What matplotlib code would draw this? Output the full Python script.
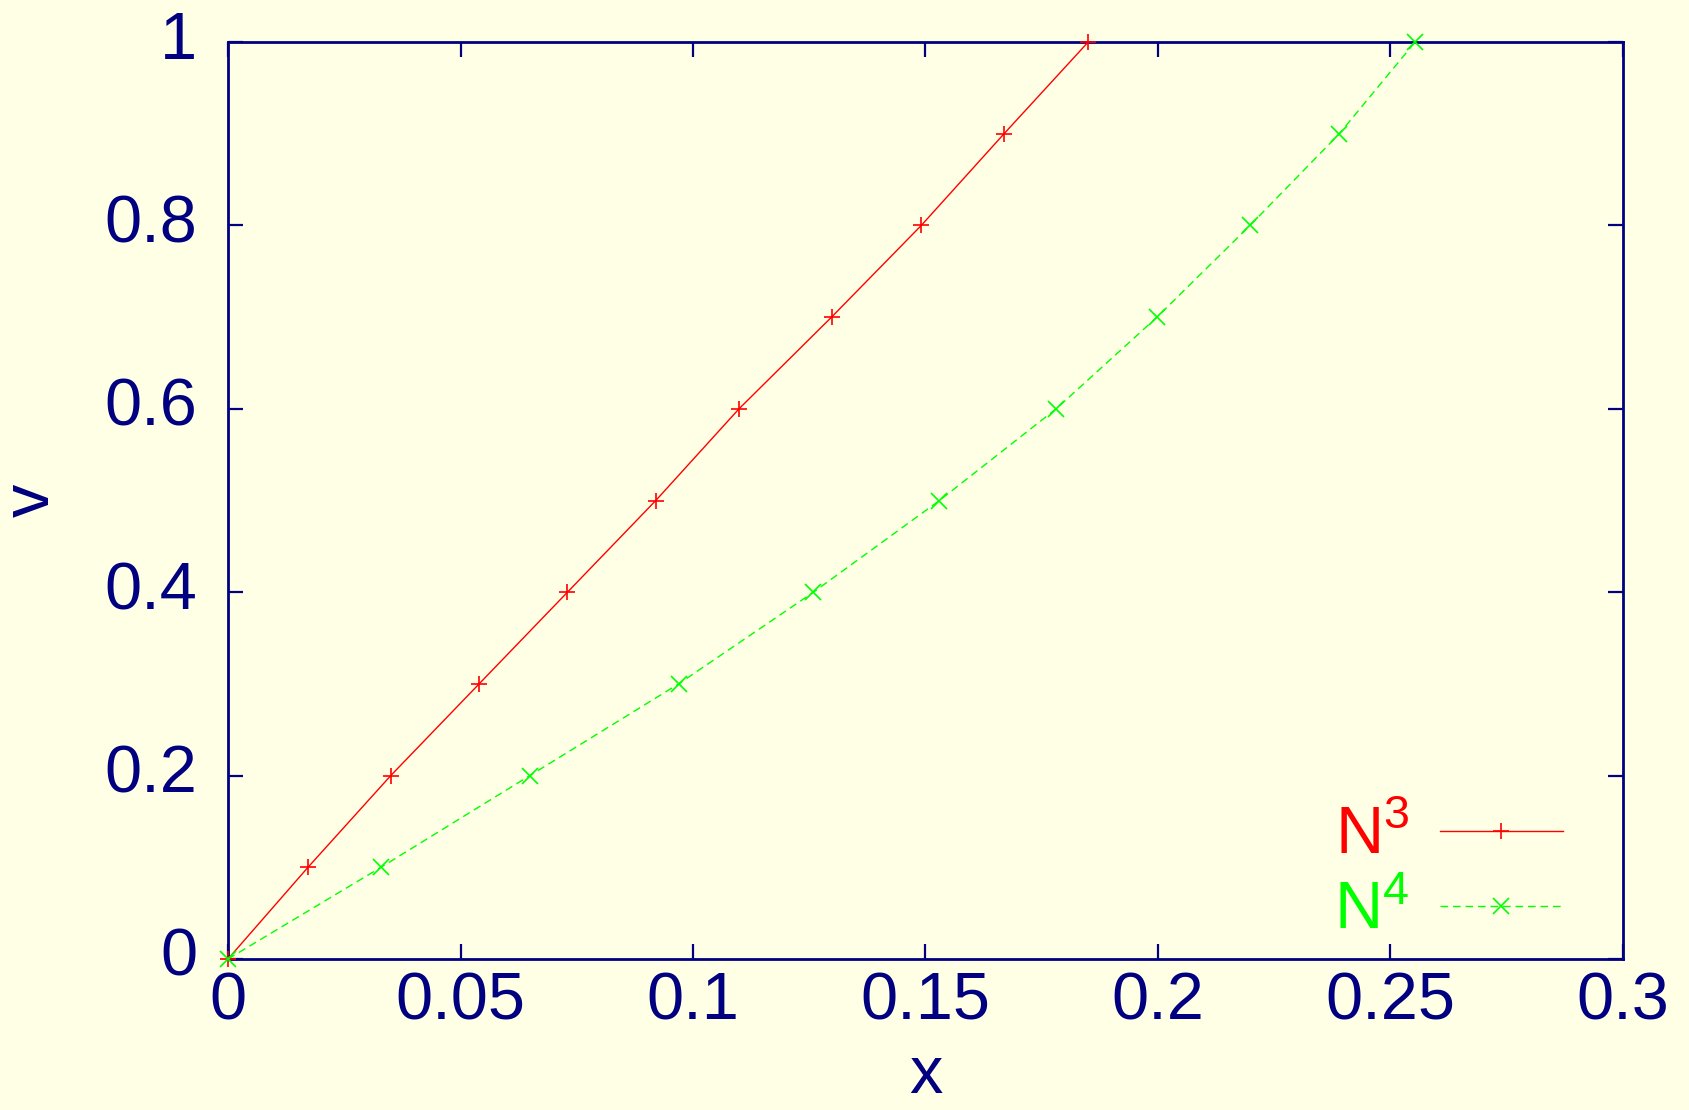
import numpy as np
import matplotlib
matplotlib.use('Agg')
import matplotlib.pyplot as plt
import matplotlib.transforms as mtransforms

# data
v = [0.0, 0.1, 0.2, 0.3, 0.4, 0.5, 0.6, 0.7, 0.8, 0.9, 1.0]
x_n3 = [0.0, 0.0172, 0.0350, 0.0540, 0.0730, 0.0920, 0.1099, 0.1298, 0.1491, 0.1669, 0.1850]
x_n4 = [0.0, 0.0329, 0.0649, 0.0969, 0.1259, 0.1530, 0.1781, 0.1998, 0.2198, 0.2390, 0.2553]

xticks = [0, 0.05, 0.1, 0.15, 0.2, 0.25, 0.3]
xticklabels = ['0', '0.05', '0.1', '0.15', '0.2', '0.25', '0.3']
yticks = [0, 0.2, 0.4, 0.6, 0.8, 1.0]
yticklabels = ['0', '0.2', '0.4', '0.6', '0.8', '1']

bg = '#FFFFE5'
navy = '#000080'
fs = 48

plt.rcParams['font.family'] = ['Liberation Sans', 'DejaVu Sans']
plt.rcParams['mathtext.fontset'] = 'custom'
plt.rcParams['mathtext.rm'] = 'Liberation Sans'
plt.rcParams['mathtext.it'] = 'Liberation Sans'

fig = plt.figure(figsize=(16.9, 11.1), dpi=100, facecolor=bg)
ax = fig.add_axes([228 / 1690, 1 - 959 / 1110, (1623 - 228) / 1690, (959 - 42) / 1110])
ax.set_facecolor(bg)

ax.plot(x_n3, v, color='#FF0000', lw=1.0, marker='+', ms=12, mew=1.2,
        label='N$^3$', clip_on=False, zorder=3)
ax.plot(x_n4, v, color='#00FF00', lw=1.0, dashes=(5.5, 3.5), marker='x', ms=11, mew=1.2,
        label='N$^4$', clip_on=False, zorder=3)

ax.set_xlim(0, 0.3)
ax.set_ylim(0, 1)
ax.set_xticks(xticks)
ax.set_xticklabels(xticklabels)
ax.set_yticks(yticks)
ax.set_yticklabels(yticklabels)

for s in ax.spines.values():
    s.set_color(navy)
    s.set_linewidth(2.0)
ax.tick_params(direction='in', length=11, width=1.6, color=navy, labelcolor=navy,
               labelsize=fs, top=True, right=True)
ax.tick_params(axis='x', pad=9)
ax.tick_params(axis='y', pad=22)

# gnuplot puts the y labels a little above their ticks
shift = mtransforms.ScaledTranslation(0, 0.07, fig.dpi_scale_trans)
for lab in ax.get_yticklabels():
    lab.set_transform(lab.get_transform() + shift)

ax.set_xlabel('x', fontsize=fs, color=navy, labelpad=8)
ax.set_ylabel('v', fontsize=fs, color=navy, labelpad=30)

leg = ax.legend(loc='lower right', bbox_to_anchor=(0.976, -0.012), frameon=False,
                markerfirst=False, numpoints=1, fontsize=fs, handlelength=1.85,
                handletextpad=0.45, labelspacing=0.2, borderaxespad=0.0,
                labelcolor='linecolor')

fig.savefig('out.png', dpi=100, facecolor=bg)
